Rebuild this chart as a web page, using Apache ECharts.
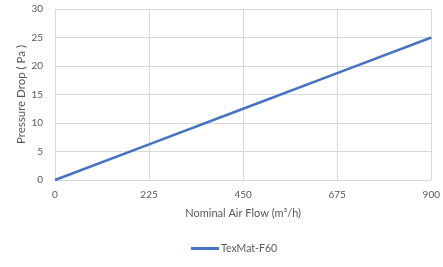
<!DOCTYPE html>
<html>
<head>
<meta charset="utf-8">
<script src="https://cdn.jsdelivr.net/npm/echarts@6/dist/echarts.min.js"></script>
<style>
  html, body { margin: 0; padding: 0; background: #fff; }
  #chart { width: 443px; height: 267px; }
</style>
</head>
<body>
<div id="chart"></div>
<script>
// 数据
const airFlow = [0, 225, 450, 675, 900];
const pressureDrop = [0, 6.25, 12.5, 18.75, 25];
const seriesName = "TexMat-F60";

const chart = echarts.init(document.getElementById("chart"));
const font = "Lato, 'Open Sans', sans-serif";

chart.setOption({
  animation: false,
  textStyle: { fontFamily: font },
  grid: { left: 55, right: 9, top: 9, bottom: 87 },
  legend: {
    bottom: 8,
    left: 186,
    data: [seriesName],
    itemWidth: 28,
    itemHeight: 3,
    itemGap: 0,
    icon: "rect",
    textStyle: { color: "#595959", fontSize: 10.5, fontFamily: font, padding: [0, 0, 0, -3] }
  },
  xAxis: {
    type: "value",
    min: 0, max: 900, interval: 225,
    name: "Nominal Air Flow (m³/h)",
    nameLocation: "middle",
    nameGap: 28,
    nameMoveOverlap: false,
    nameTextStyle: { color: "#595959", fontSize: 11, fontFamily: font },
    axisLine: { show: false },
    axisTick: { show: false },
    axisLabel: { color: "#595959", fontSize: 10, margin: 10 },
    splitLine: { lineStyle: { color: "#d9d9d9" } }
  },
  yAxis: {
    type: "value",
    min: 0, max: 30, interval: 5,
    name: "Pressure Drop ( Pa )",
    nameLocation: "middle",
    nameGap: 28,
    nameMoveOverlap: false,
    nameTextStyle: { color: "#595959", fontSize: 11.5, fontFamily: font },
    axisLine: { show: false },
    axisTick: { show: false },
    axisLabel: { color: "#595959", fontSize: 10, margin: 12 },
    splitLine: { lineStyle: { color: "#d9d9d9" } }
  },
  series: [{
    name: seriesName,
    type: "line",
    data: airFlow.map((x, i) => [x, pressureDrop[i]]),
    showSymbol: false,
    lineStyle: { color: "#4472c4", width: 2.5 },
    itemStyle: { color: "#4472c4" }
  }]
});
</script>
</body>
</html>
